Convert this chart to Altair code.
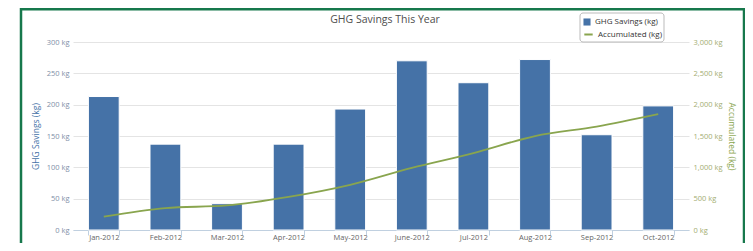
import altair as alt
import pandas as pd

chart_title = "GHG Savings This Year"
months = ["Jan-2012", "Feb-2012", "Mar-2012", "Apr-2012", "May-2012",
          "June-2012", "Jul-2012", "Aug-2012", "Sep-2012", "Oct-2012"]
savings = [213, 137, 42, 137, 193, 270, 235, 272, 152, 198]
accumulated = [213, 350, 392, 529, 722, 992, 1227, 1499, 1651, 1849]
left_ticks = [0, 50, 100, 150, 200, 250, 300]
right_ticks = [0, 500, 1000, 1500, 2000, 2500, 3000]

df = pd.DataFrame({"month": months, "savings": savings, "accumulated": accumulated})

FONT = "Open Sans"
BLUE = "#4572A7"
GREEN = "#89A54E"

x_enc = alt.X(
    "month:N", sort=months,
    scale=alt.Scale(paddingInner=0.5, paddingOuter=0.25),
    axis=alt.Axis(title=None, labelAngle=0, labelFontSize=7.5, labelColor="#666666",
                  labelFont=FONT, domainColor="#C0D0E0", tickColor="#C0D0E0",
                  tickBand="extent", tickSize=5, labelPadding=-2, grid=False),
)

bars = alt.Chart(df).transform_calculate(s1="'GHG Savings (kg)'").mark_bar(
    stroke="white", strokeWidth=1).encode(
    x=x_enc,
    y=alt.Y("savings:Q", scale=alt.Scale(domain=[0, 300]),
            axis=alt.Axis(values=left_ticks, labelExpr="datum.value + ' kg'",
                          title="GHG Savings (kg)", titleColor=BLUE, titleFont=FONT,
                          titleFontSize=8.5, titleFontWeight="normal",
                          titleX=-38, titleY=94, titleAngle=-90, titleBaseline="middle",
                          titleAlign="center",
                          labelFont=FONT, labelFontSize=7.5, labelColor="#8090a8",
                          labelPadding=4, domain=False, ticks=False,
                          grid=True, gridColor="#e4e4e4")),
    fill=alt.Fill("s1:N",
                  scale=alt.Scale(range=[BLUE]),
                  legend=alt.Legend(orient="none", legendX=510, legendY=-24, title=None,
                                    symbolType="square", symbolSize=50,
                                    symbolStrokeWidth=0, labelFont=FONT,
                                    labelFontSize=8, labelColor="#333333",
                                    labelOffset=4, padding=0)),
)

line = alt.Chart(df).transform_calculate(s2="'Accumulated (kg)'").mark_line(
    interpolate="monotone", strokeWidth=1.8).encode(
    x=x_enc,
    y=alt.Y("accumulated:Q", scale=alt.Scale(domain=[0, 3000]),
            axis=alt.Axis(orient="right", values=right_ticks,
                          labelExpr="format(datum.value, ',') + ' kg'",
                          title="Accumulated (kg)", titleColor=GREEN, titleFont=FONT,
                          titleFontSize=8.5, titleFontWeight="normal",
                          titleX=42, titleY=94, titleAngle=90, titleBaseline="middle",
                          titleAlign="center",
                          labelFont=FONT, labelFontSize=7.5, labelColor="#a3ad72",
                          labelPadding=4, domain=False, ticks=False, grid=False)),
    stroke=alt.Stroke("s2:N",
                      scale=alt.Scale(range=[GREEN]),
                      legend=alt.Legend(orient="none", legendX=510, legendY=-13, title=None,
                                        symbolType="stroke", symbolSize=70,
                                        symbolStrokeWidth=2, labelFont=FONT,
                                        labelFontSize=8, labelColor="#333333",
                                        labelOffset=4, padding=0)),
)

one = pd.DataFrame({"t": [chart_title]})
frame = alt.Chart(one).mark_rect(filled=False, stroke="#17784c", strokeWidth=2.5).encode(
    x=alt.value(-52), x2=alt.value(671), y=alt.value(-32.8), y2=alt.value(240)
)
legend_box = alt.Chart(one).mark_rect(fill="white", stroke="#bbbbbb", strokeWidth=1,
                                      cornerRadius=3).encode(
    x=alt.value(507), x2=alt.value(591), y=alt.value(-29), y2=alt.value(0)
)
title = alt.Chart(one).mark_text(font=FONT, fontSize=10.5, color="#4d4d4d",
                                 align="center", baseline="middle").encode(
    text="t:N", x=alt.value(312), y=alt.value(-22)
)

chart = alt.layer(frame, bars, line, legend_box, title).resolve_scale(
    y="independent", fill="independent", stroke="independent"
).properties(
    width=616, height=188,
    autosize=alt.AutoSizeParams(type="none"),
    padding={"left": 65, "top": 34, "right": 56, "bottom": 13},
).configure_view(stroke=None)

chart.save("out.html", embed_options={"renderer": "svg", "actions": False})
